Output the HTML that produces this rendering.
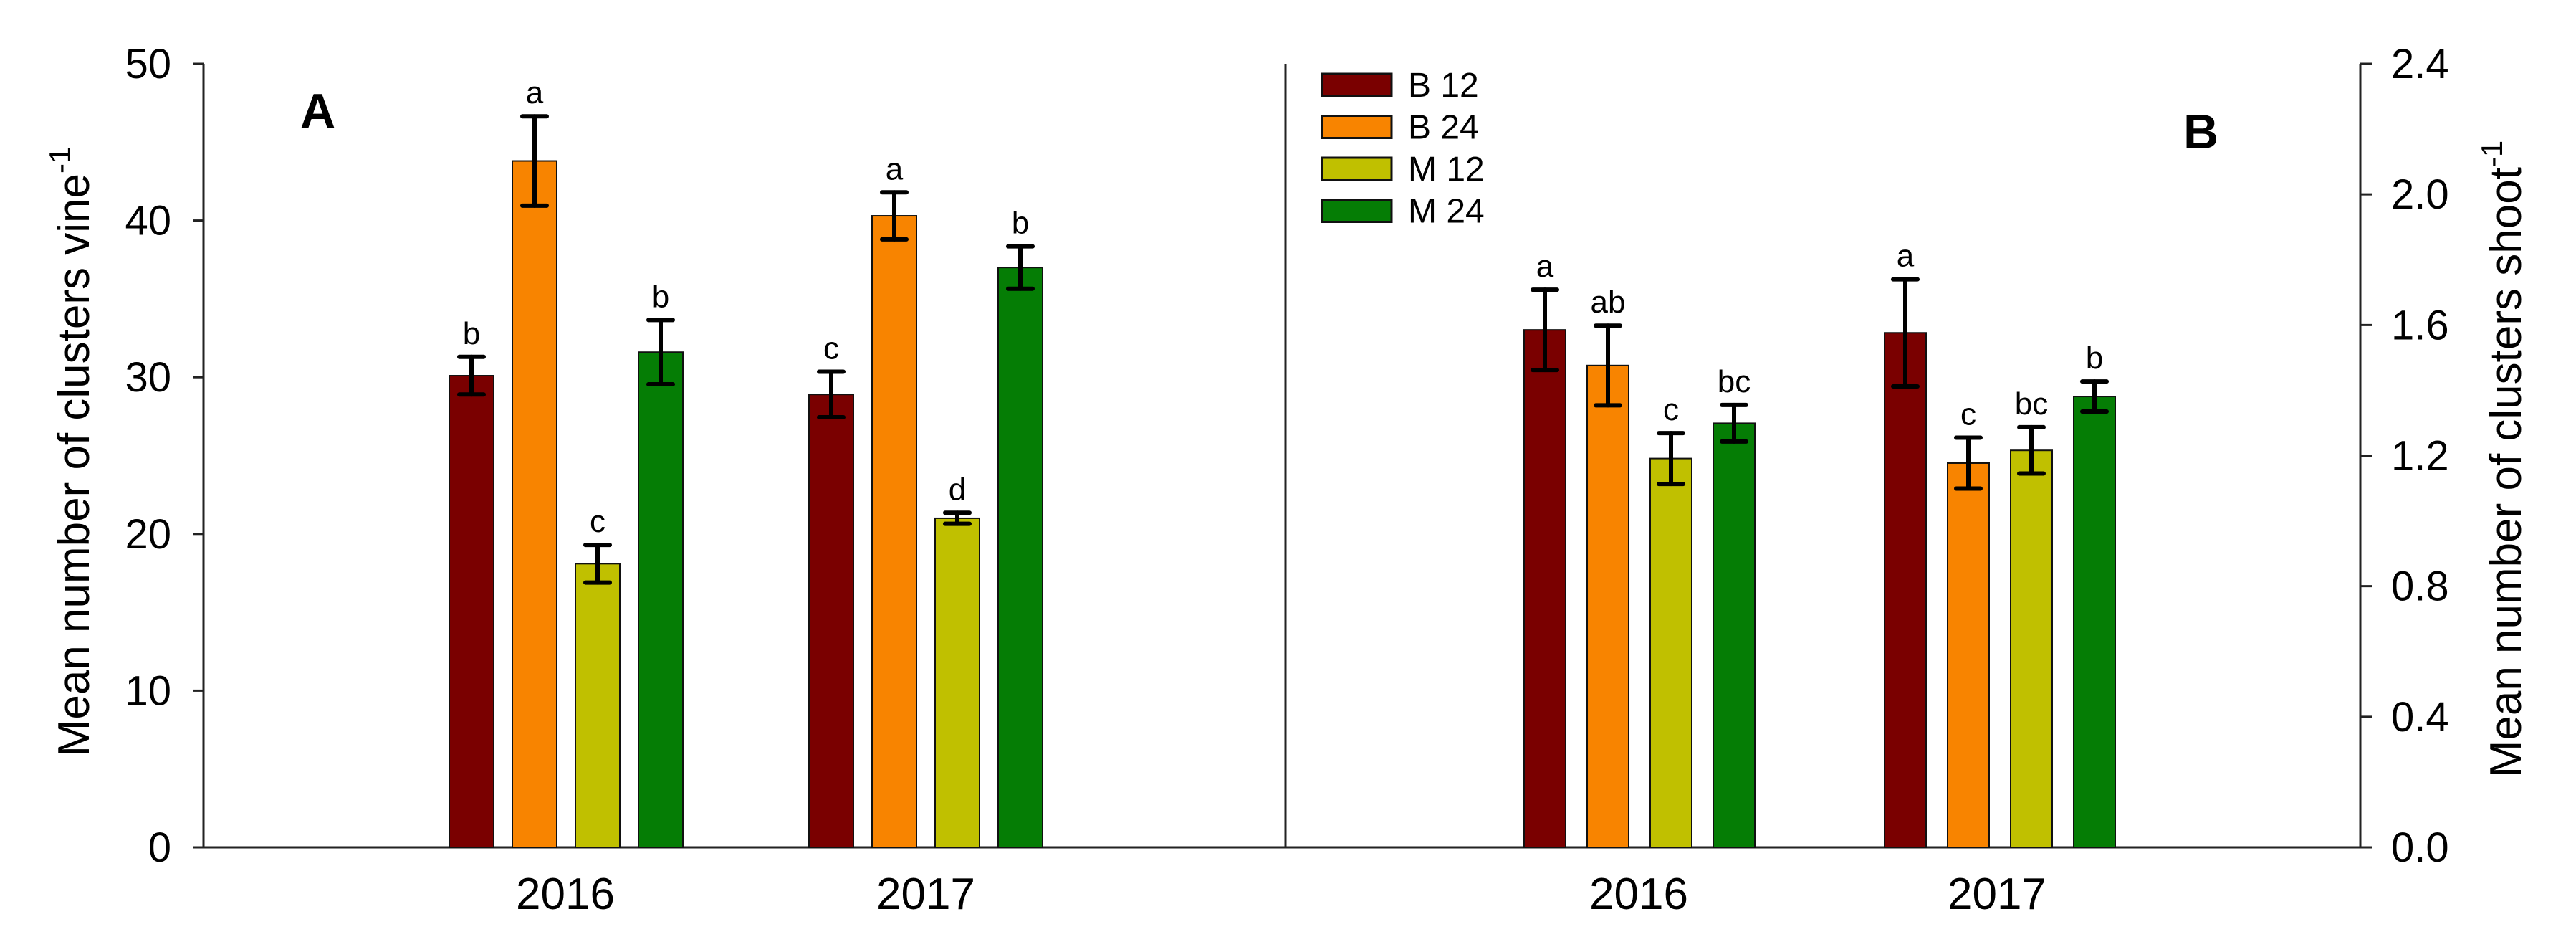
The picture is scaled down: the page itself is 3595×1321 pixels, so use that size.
<!DOCTYPE html>
<html><head><meta charset="utf-8"><style>
html,body{margin:0;padding:0;background:#fff;}
svg{display:block;font-family:"Liberation Sans",Arial,sans-serif;}
</style></head><body>
<svg id="chart" width="3595" height="1321" viewBox="0 0 3595 1321" xmlns="http://www.w3.org/2000/svg"></svg>
<script>
const years = ["2016", "2017"];
const series = ["B 12", "B 24", "M 12", "M 24"];
const colors = ["#7a0000", "#f88400", "#c0c000", "#057d05"];
const valuesA = [[30.1, 43.8, 18.1, 31.6], [28.9, 40.3, 21.0, 37.0]];
const errorsA = [[1.2, 2.85, 1.2, 2.05], [1.45, 1.5, 0.35, 1.35]];
const lettersA = [["b", "a", "c", "b"], ["c", "a", "d", "b"]];
const valuesB = [[1.585, 1.476, 1.191, 1.299], [1.576, 1.177, 1.216, 1.381]];
const errorsB = [[0.123, 0.122, 0.078, 0.056], [0.164, 0.078, 0.071, 0.046]];
const lettersB = [["a", "ab", "c", "bc"], ["a", "c", "bc", "b"]];
const ticksA = [0, 10, 20, 30, 40, 50];
const ticksB = ["0.0", "0.4", "0.8", "1.2", "1.6", "2.0", "2.4"];

const svg = document.getElementById('chart');
const NS = "http://www.w3.org/2000/svg";
function mk(tag, attrs, parent) {
  const e = document.createElementNS(NS, tag);
  for (const k in attrs) e.setAttribute(k, attrs[k]);
  (parent || svg).appendChild(e);
  return e;
}
const Y0 = 1182, YTOP = 89;
const yA = v => Y0 - (v / 50) * (Y0 - YTOP);
const yB = v => Y0 - (v / 2.4) * (Y0 - YTOP);

function panel(name, vals, errs, letters, yf, groupStarts, barW, step) {
  const g = mk('g', {});
  
  
  vals.forEach((grp, gi) => {
    grp.forEach((v, si) => {
      const x = groupStarts[gi] + si * step;
      const r = mk('rect', {x: x, y: yf(v), width: barW, height: Y0 - yf(v), fill: colors[si], stroke: '#111', 'stroke-width': 2}, g);
      
      
      const cx = x + barW / 2, e = errs[gi][si];
      const eg = mk('g', {stroke: '#000', 'stroke-width': 6, 'stroke-linecap': 'round'}, g);
      
      
      mk('line', {x1: cx, x2: cx, y1: yf(v + e), y2: yf(v - e)}, eg);
      mk('line', {x1: cx - 17, x2: cx + 17, y1: yf(v + e), y2: yf(v + e)}, eg);
      mk('line', {x1: cx - 17, x2: cx + 17, y1: yf(v - e), y2: yf(v - e)}, eg);
      const t = mk('text', {x: cx, y: yf(v + e) - 18, 'font-size': 44, 'text-anchor': 'middle', fill: '#000'}, g);
      t.textContent = letters[gi][si];
      
      
    });
  });
}

// Panel A axes
mk('line', {x1: 284, x2: 284, y1: YTOP, y2: Y0 + 1, stroke: '#222', 'stroke-width': 3});
mk('line', {x1: 283, x2: 1795, y1: Y0, y2: Y0, stroke: '#222', 'stroke-width': 3});
mk('line', {x1: 1794, x2: 1794, y1: YTOP, y2: Y0, stroke: '#222', 'stroke-width': 3});
ticksA.forEach(t => {
  mk('line', {x1: 269, x2: 284, y1: yA(t), y2: yA(t), stroke: '#222', 'stroke-width': 3});
  const tx = mk('text', {x: 239, y: yA(t) + 20, 'font-size': 58, 'text-anchor': 'end'});
  tx.textContent = t;
  
  
});
panel('a', valuesA, errorsA, lettersA, yA, [627, 1129], 62, 88);
const la = mk('text', {x: 419, y: 178, 'font-size': 68, 'font-weight': 'bold'});
la.textContent = 'A';


[[789, '2016'], [1292, '2017']].forEach(([x, s]) => {
  const t = mk('text', {x: x, y: 1268, 'font-size': 62, 'text-anchor': 'middle'});
  t.textContent = s;
  
  
});
const ta = mk('text', {transform: 'translate(124,630) rotate(-90)', 'font-size': 62, 'text-anchor': 'middle'});
ta.innerHTML = 'Mean number of clusters vine<tspan dy="-26" font-size="42">-1</tspan>';



// Panel B axes
mk('line', {x1: 1794, x2: 3295, y1: Y0, y2: Y0, stroke: '#222', 'stroke-width': 3});
mk('line', {x1: 3294, x2: 3294, y1: YTOP, y2: Y0 + 1, stroke: '#222', 'stroke-width': 3});
ticksB.forEach(t => {
  const v = parseFloat(t);
  mk('line', {x1: 3294, x2: 3311, y1: yB(v), y2: yB(v), stroke: '#222', 'stroke-width': 3});
  const tx = mk('text', {x: 3337, y: yB(v) + 20, 'font-size': 58});
  tx.textContent = t;
  
  
});
panel('b', valuesB, errorsB, lettersB, yB, [2127, 2630], 58, 88);
const lb = mk('text', {x: 3047, y: 207, 'font-size': 68, 'font-weight': 'bold'});
lb.textContent = 'B';


[[2287, '2016'], [2787, '2017']].forEach(([x, s]) => {
  const t = mk('text', {x: x, y: 1268, 'font-size': 62, 'text-anchor': 'middle'});
  t.textContent = s;
  
  
});
const tb = mk('text', {transform: 'translate(3518,640) rotate(-90)', 'font-size': 62, 'text-anchor': 'middle'});
tb.innerHTML = 'Mean number of clusters shoot<tspan dy="-26" font-size="42">-1</tspan>';



// Legend
const lg = mk('g', {});


series.forEach((s, i) => {
  const y = 103 + i * 58.5;
  const r = mk('rect', {x: 1845, y: y, width: 97, height: 31, fill: colors[i], stroke: '#111', 'stroke-width': 3}, lg);
  
  
  const t = mk('text', {x: 1965, y: y + 32, 'font-size': 48}, lg);
  t.textContent = s;
  
  
});
</script>
</body></html>
